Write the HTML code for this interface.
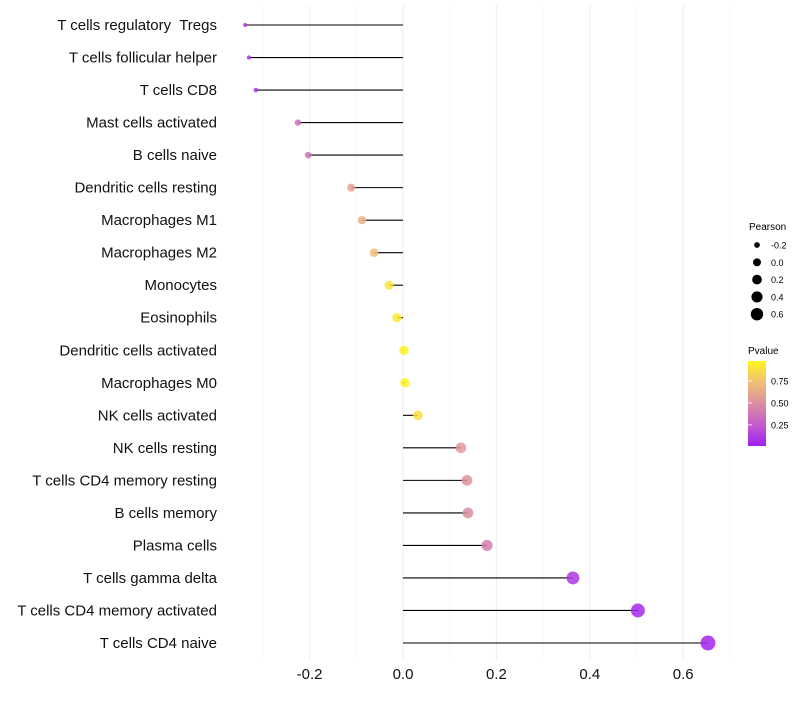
<!DOCTYPE html>
<html><head><meta charset="utf-8"><style>
body{margin:0;background:#fff;font-family:"Liberation Sans",sans-serif}
</style></head><body>
<svg id="chart" width="800" height="700" xmlns="http://www.w3.org/2000/svg">
<defs>
<linearGradient id="pg" x1="0" y1="1" x2="0" y2="0">
<stop offset="0" stop-color="#a020f0"/><stop offset="0.25" stop-color="#c35ccc"/><stop offset="0.5" stop-color="#dc8ea0"/><stop offset="0.75" stop-color="#efbf78"/><stop offset="1" stop-color="#fff51a"/>
</linearGradient>
</defs>
<g id="grid"></g><g id="marks"></g><g id="labels"></g>
<g font-size="10" fill="#000">
<text x="749" y="230">Pearson</text>
<g id="sizeLegend"></g>
<text x="748" y="354">Pvalue</text>
<rect x="748" y="361" width="18" height="85" fill="url(#pg)"/>
<g id="colorTicks"></g>
</g>
</svg>
<script>
const categories=["T cells regulatory  Tregs","T cells follicular helper","T cells CD8","Mast cells activated","B cells naive","Dendritic cells resting","Macrophages M1","Macrophages M2","Monocytes","Eosinophils","Dendritic cells activated","Macrophages M0","NK cells activated","NK cells resting","T cells CD4 memory resting","B cells memory","Plasma cells","T cells gamma delta","T cells CD4 memory activated","T cells CD4 naive"];
const pearson=[-0.338,-0.33,-0.315,-0.225,-0.203,-0.111,-0.088,-0.062,-0.03,-0.013,0.002,0.004,0.032,0.124,0.137,0.139,0.18,0.364,0.503,0.653];
const pvalue=[0.1,0.1,0.08,0.35,0.38,0.6,0.68,0.75,0.92,0.95,0.99,0.98,0.9,0.55,0.52,0.5,0.42,0.1,0.04,0.02];
const xTicks=[-0.2,0,0.2,0.4,0.6];
const xMinor=[-0.3,-0.1,0.1,0.3,0.5,0.7];
const sizeTicks=[-0.2,0,0.2,0.4,0.6];
const colorTicks=[0.75,0.5,0.25];
const NS="http://www.w3.org/2000/svg";
const X=v=>403+v*467;
const Y=i=>25+i*(618/19);
const R=v=>Math.sqrt(Math.max(1,21.9+52.5*v));
const stops=[[0,[160,32,240]],[0.25,[195,92,204]],[0.5,[220,142,160]],[0.75,[239,191,120]],[1,[255,245,26]]];
function col(p){p=Math.min(1,Math.max(0,p));for(let k=1;k<stops.length;k++){if(p<=stops[k][0]){const a=stops[k-1],b=stops[k],t=(p-a[0])/(b[0]-a[0]);return "rgb("+a[1].map((c,j)=>Math.round(c+(b[1][j]-c)*t)).join(",")+")";}}}
function mk(t,at,parent){const e=document.createElementNS(NS,t);for(const k in at)e.setAttribute(k,at[k]);parent.appendChild(e);return e;}
const grid=document.getElementById('grid'),marks=document.getElementById('marks'),labels=document.getElementById('labels');
xMinor.forEach(v=>{const l=mk('line',{x1:X(v),x2:X(v),y1:5,y2:660,stroke:'#f4f4f4','stroke-width':0.6},grid);

});
xTicks.forEach(v=>{const l=mk('line',{x1:X(v),x2:X(v),y1:5,y2:660,stroke:'#eeeeee','stroke-width':1},grid);


const t=mk('text',{x:X(v),y:679,'text-anchor':'middle','font-size':15,fill:'#111'},labels);t.textContent=v.toFixed(1);

});
categories.forEach((c,i)=>{
const y=Y(i);
const s=mk('line',{x1:X(0),x2:X(pearson[i]),y1:y,y2:y,stroke:'#000','stroke-width':1.1},marks);


const d=mk('circle',{cx:X(pearson[i]),cy:y,r:R(pearson[i]),fill:col(pvalue[i]),'fill-opacity':0.85},marks);


const t=mk('text',{x:217,y:y+5,'text-anchor':'end','font-size':15,fill:'#111','xml:space':'preserve'},labels);t.style.whiteSpace='pre';t.textContent=c;


});
const sl=document.getElementById('sizeLegend');
sizeTicks.forEach((v,i)=>{const y=245+i*17.3;
const c=mk('circle',{cx:757,cy:y,r:R(v)*0.85,fill:'#000'},sl);


const t=mk('text',{x:771,y:y+3.5,'font-size':9},sl);t.textContent=v.toFixed(1);

});
const ct=document.getElementById('colorTicks');
colorTicks.forEach(p=>{const y=446-(p-0.01)/(0.977-0.01)*85;
const l=mk('line',{x1:748,x2:752,y1:y,y2:y,stroke:'#fff','stroke-width':0.8},ct);


const t=mk('text',{x:771,y:y+3.5,'font-size':9},ct);t.textContent=p.toFixed(2);

});
</script>
</body></html>
